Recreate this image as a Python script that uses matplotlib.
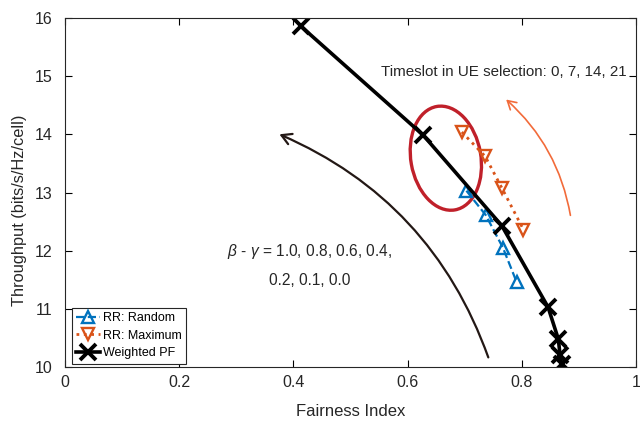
import numpy as np
import matplotlib.pyplot as plt
from matplotlib.patches import Ellipse, FancyArrowPatch
from matplotlib.transforms import ScaledTranslation

plt.rcParams['font.family'] = ['Liberation Sans', 'DejaVu Sans']
plt.rcParams['mathtext.fontset'] = 'custom'
plt.rcParams['mathtext.it'] = 'Liberation Sans:italic'
plt.rcParams['mathtext.rm'] = 'Liberation Sans'

# RR: Random (timeslot 0, 7, 14, 21)
rr_rand_x = [0.703, 0.737, 0.767, 0.791]
rr_rand_y = [13.03, 12.61, 12.05, 11.46]

# RR: Maximum (timeslot 0, 7, 14, 21)
rr_max_x = [0.695, 0.736, 0.765, 0.803]
rr_max_y = [14.04, 13.62, 13.08, 12.36]

# Weighted PF for beta - gamma = 1.0 ... 0.0
wpf_x = [0.413, 0.627, 0.765, 0.846, 0.864, 0.867, 0.870]
wpf_y = [15.86, 13.99, 12.43, 11.03, 10.48, 10.21, 10.05]

xticks = [0, 0.2, 0.4, 0.6, 0.8, 1]
xticklabels = ['0', '0.2', '0.4', '0.6', '0.8', '1']
yticks = [10, 11, 12, 13, 14, 15, 16]

blue = '#0072BD'
orange = '#D95319'
txt = '#262626'

fig = plt.figure(figsize=(6.4, 4.25), dpi=100)
ax = fig.add_axes([0.1016, 0.1365, 0.8921, 0.8211])

ax.plot(rr_rand_x, rr_rand_y, '--^', color=blue, lw=1.6, ms=8,
        mfc='none', mew=1.7, label='RR: Random')
ax.plot(rr_max_x, rr_max_y, ':v', color=orange, lw=2.0, ms=8,
        mfc='none', mew=1.7, label='RR: Maximum')
ax.plot(wpf_x, wpf_y, '-x', color='black', lw=2.6, ms=11,
        mew=2.8, label='Weighted PF')

# highlight around the beta-gamma = 0.8 point (size in inches)
ell = Ellipse((0, 0), 0.70, 1.05, angle=10, fill=False, ec='#C0202A', lw=2.4,
              transform=fig.dpi_scale_trans + ScaledTranslation(0.667, 13.59, ax.transData))
ax.add_patch(ell)

# direction arrows
ax.add_patch(FancyArrowPatch((0.743, 10.12), (0.371, 14.02),
                             connectionstyle='arc3,rad=0.22', arrowstyle='->,head_length=7,head_width=4',
                             color='#231815', lw=1.6))
ax.add_patch(FancyArrowPatch((0.886, 12.56), (0.769, 14.63),
                             connectionstyle='arc3,rad=0.18', arrowstyle='->,head_length=6,head_width=3.5',
                             color='#F26B3A', lw=1.2))

ax.text(0.554, 15.07, 'Timeslot in UE selection: 0, 7, 14, 21', fontsize=10.9, color=txt,
        ha='left', va='center')
ax.text(0.284, 11.98, r'$\beta$ - $\gamma$ = 1.0, 0.8, 0.6, 0.4,', fontsize=11.2, color=txt,
        ha='left', va='center')
ax.text(0.429, 11.48, '0.2, 0.1, 0.0', fontsize=11.2, color=txt, ha='center', va='center')

ax.set_xlim(0, 1)
ax.set_ylim(10, 16)
ax.set_xticks(xticks)
ax.set_xticklabels(xticklabels)
ax.set_yticks(yticks)
ax.tick_params(direction='in', top=True, right=True, labelsize=11.5, labelcolor=txt,
               length=5, width=0.8)
ax.tick_params(axis='x', pad=6)
ax.tick_params(axis='y', pad=9)
for s in ax.spines.values():
    s.set_linewidth(0.8)
    s.set_color('#262626')
ax.set_xlabel('Fairness Index', fontsize=12, color=txt)
ax.set_ylabel('Throughput (bits/s/Hz/cell)', fontsize=11.8, color=txt)
ax.xaxis.set_label_coords(0.5, -0.105)
ax.yaxis.set_label_coords(-0.066, 0.45)

leg = ax.legend(loc='lower left', bbox_to_anchor=(0.012, 0.009), fontsize=9,
                handlelength=1.9, handletextpad=0.2, borderpad=0.35, labelspacing=0.45,
                fancybox=False, edgecolor='#262626', framealpha=1, borderaxespad=0)
leg.get_frame().set_linewidth(0.8)

fig.savefig('out.png', dpi=100)
